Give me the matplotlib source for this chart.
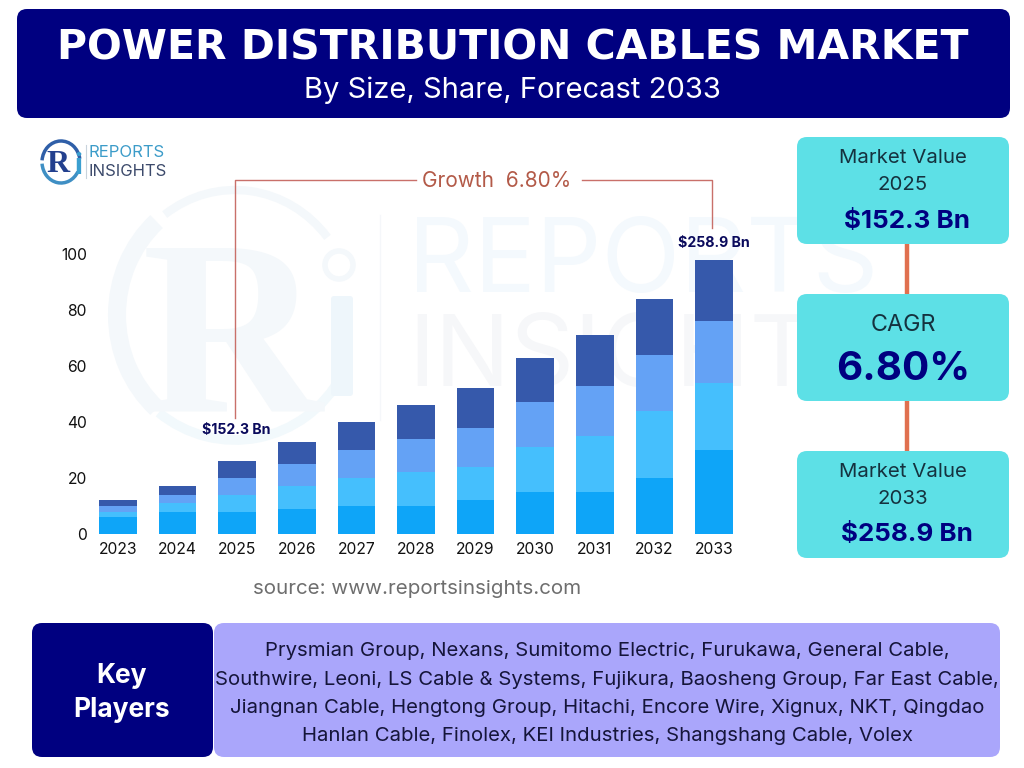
#!/usr/bin/python3

import matplotlib
matplotlib.use("Agg")
import matplotlib.pyplot as plt
from matplotlib.patches import FancyBboxPatch, Arc, Circle

plt.rcParams['font.family'] = ['Inter', 'DejaVu Sans']

years = [2023, 2024, 2025, 2026, 2027, 2028, 2029, 2030, 2031, 2032, 2033]
seg1 = [6, 8, 8, 9, 10, 10, 12, 15, 15, 20, 30]
seg2 = [2, 3, 6, 8, 10, 12, 12, 16, 20, 24, 24]
seg3 = [2, 3, 6, 8, 10, 12, 14, 16, 18, 20, 22]
seg4 = [2, 3, 6, 8, 10, 12, 14, 16, 18, 20, 22]
seg_colors = ['#0ea5f8', '#45bffd', '#64a2f5', '#3659ab']
yticks = [0, 20, 40, 60, 80, 100]

players = [
    "Prysmian Group, Nexans, Sumitomo Electric, Furukawa, General Cable,",
    "Southwire, Leoni, LS Cable & Systems, Fujikura, Baosheng Group, Far East Cable,",
    "Jiangnan Cable, Hengtong Group, Hitachi, Encore Wire, Xignux, NKT, Qingdao",
    "Hanlan Cable, Finolex, KEI Industries, Shangshang Cable, Volex",
]

NAVY = '#000080'
TEAL = '#5de0e6'
LINE = '#c9706a'

fig = plt.figure(figsize=(10.24, 7.68), dpi=100)

# background layer in pixel coordinates
bg = fig.add_axes([0, 0, 1, 1])
bg.set_xlim(0, 1024)
bg.set_ylim(768, 0)
bg.axis('off')


def box(x0, y0, x1, y1, color, r=10):
    bg.add_patch(FancyBboxPatch((x0 + r, y0 + r), x1 - x0 - 2 * r, y1 - y0 - 2 * r,
                                boxstyle="round,pad=%d,rounding_size=%d" % (r, r),
                                fc=color, ec='none', zorder=3))


def txt(x, y, s, size, color='black', weight='normal', **kw):
    # va center sits a little high, nudge by font size
    bg.text(x, y + size * 0.14, s, fontsize=size, color=color, fontweight=weight,
            ha=kw.pop('ha', 'center'), va='center', zorder=5, **kw)


# watermark
wm = '#f4f8fb'
bg.add_patch(Arc((235, 315), 236, 250, theta1=130, theta2=230, ec=wm, lw=13, zorder=1))
bg.add_patch(Arc((235, 315), 244, 250, theta1=30, theta2=128, ec='#f2f9fc', lw=7, zorder=1))
bg.add_patch(Arc((235, 315), 236, 250, theta1=235, theta2=320, ec=wm, lw=6, zorder=1))
bg.text(232, 350, "R", fontsize=180, color=wm, fontweight='bold', family='Liberation Serif',
        ha='center', va='center', zorder=1)
bg.add_patch(Circle((339, 265), 14, fc='none', ec=wm, lw=4, zorder=1))
bg.add_patch(FancyBboxPatch((331, 296), 22, 100, boxstyle="round,pad=0,rounding_size=3",
                            fc='#eef6fb', ec='none', zorder=1))
bg.plot([380, 380], [215, 420], color='#f5f7fa', lw=1, zorder=1)
bg.text(408, 265, "REPORTS", fontsize=74, color='#f4f9fd', ha='left', va='center', zorder=1)
bg.text(408, 360, "INSIGHTS", fontsize=72, color='#f6f7f9', ha='left', va='center', zorder=1)

# header
box(17, 9, 1010, 118, NAVY)
txt(513, 44, "POWER DISTRIBUTION CABLES MARKET", 29.5, 'white', 'bold', family='Liberation Sans Narrow')
txt(512, 87, "By Size, Share, Forecast 2033", 21, 'white')

# logo
bg.add_patch(Arc((61, 162), 38, 42, theta1=185, theta2=350, ec='#2f5fa8', lw=2.5, zorder=4))
bg.add_patch(Arc((61, 162), 38, 42, theta1=30, theta2=175, ec='#3f8fc4', lw=2.5, zorder=4))
bg.text(58, 164, "R", fontsize=23, color='#23408e', fontweight='bold', family='Liberation Serif',
        ha='center', va='center', zorder=5)
bg.text(78, 166, "i", fontsize=21, color='#3a9fd0', fontweight='bold', ha='center', va='center', zorder=5)
bg.plot([85.5, 85.5], [145, 178], color='#c8d3dc', lw=0.8, zorder=4)
txt(89, 150.5, "REPORTS", 12, '#3c9cc9', ha='left')
txt(89, 169.5, "INSIGHTS", 12, '#3c4a6b', ha='left')

# growth bracket
bg.plot([235, 235, 416], [418, 180, 180], color=LINE, lw=1, zorder=4)
bg.plot([582, 712, 712], [180, 180, 228], color=LINE, lw=1, zorder=4)
txt(497, 178.5, "Growth  6.80%", 15, '#b35a48')

# chart, y axis 0 at px 534 and 100 at px 254
left = 91
ax = fig.add_axes([left / 1024, (768 - 534) / 768, (760 - left) / 1024, 280 / 768])
ax.patch.set_alpha(0)
ax.set_ylim(0, 100)
ax.set_xlim(2023 - (118 - left) / 59.6, 2023 + (760 - 118) / 59.6)
bottom = [0] * len(years)
for vals, c in zip([seg1, seg2, seg3, seg4], seg_colors):
    ax.bar(years, vals, width=0.632, bottom=bottom, color=c, edgecolor='none', zorder=3)
    bottom = [b + v for b, v in zip(bottom, vals)]
for s in ax.spines.values():
    s.set_visible(False)
ax.set_xticks(years)
ax.set_yticks(yticks)
ax.tick_params(length=0, labelsize=11.3, labelcolor='#111111')
ax.tick_params(axis='y', pad=3)
ax.tick_params(axis='x', pad=6)
ax.set_zorder(3)

txt(236, 429, "$152.3 Bn", 10.2, '#0a0a5c', 'bold')
txt(714, 242, "$258.9 Bn", 10.2, '#0a0a5c', 'bold')
txt(417, 587, "source: www.reportsinsights.com", 14.8, '#6e6e6e')

# right side cards
bg.plot([907, 907], [244, 294], color='#e0704f', lw=3.2, zorder=2)
bg.plot([907, 907], [401, 451], color='#e0704f', lw=3.2, zorder=2)
box(797, 137, 1009, 244, TEAL)
box(797, 294, 1009, 401, TEAL)
box(797, 451, 1009, 558, TEAL)
txt(903, 156, "Market Value", 14.7, '#15323f')
txt(903, 183, "2025", 14.7, '#15323f')
txt(907, 219, "$152.3 Bn", 18.7, NAVY, 'bold')
txt(903, 323, "CAGR", 16.8, '#15323f')
txt(903, 365, "6.80%", 29, NAVY, 'bold')
txt(903, 470, "Market Value", 14.7, '#15323f')
txt(903, 497, "2033", 14.7, '#15323f')
txt(907, 532, "$258.9 Bn", 18.7, NAVY, 'bold')

# key players
box(214, 623, 1000, 757, '#aaa6fb')
box(32, 623, 213, 757, NAVY)
txt(122, 673, "Key", 19, 'white', 'bold')
txt(122, 707, "Players", 19, 'white', 'bold')
for y, line in zip([649, 678, 706, 734], players):
    txt(607, y, line, 14.65, '#15153a')

fig.savefig("out.png", dpi=100)
